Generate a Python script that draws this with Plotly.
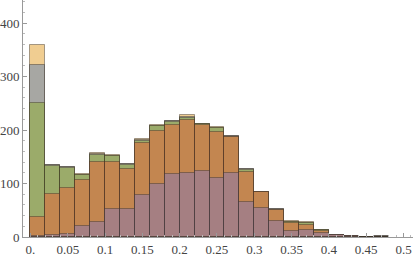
import plotly.graph_objects as go

bin_starts = [0.00, 0.02, 0.04, 0.06, 0.08, 0.10, 0.12, 0.14, 0.16, 0.18, 0.20, 0.22,
              0.24, 0.26, 0.28, 0.30, 0.32, 0.34, 0.36, 0.38, 0.40, 0.42, 0.44, 0.46]
bin_width = 0.02

series_orange = [359, 135, 131, 117, 157, 153, 137, 183, 209, 217, 228, 212,
                 205, 189, 128, 85, 52, 29, 28, 14, 4, 2, 0, 1]
series_blue   = [322, 134, 130, 116, 156, 152, 136, 182, 208, 216, 225, 212,
                 204, 188, 127, 85, 52, 28, 27, 13, 4, 2, 0, 1]
series_green  = [250, 132, 129, 115, 154, 151, 135, 180, 207, 215, 223, 211,
                 203, 187, 126, 85, 51, 28, 26, 13, 4, 2, 0, 0]
series_red    = [37, 81, 92, 106, 140, 140, 127, 175, 199, 210, 218, 210,
                 197, 187, 122, 84, 51, 27, 23, 12, 4, 2, 0, 0]
series_purple = [1, 4, 6, 21, 28, 53, 52, 78, 99, 117, 119, 124,
                 110, 119, 65, 55, 29, 12, 13, 8, 3, 1, 0, 0]

x_ticks = [0.0, 0.05, 0.1, 0.15, 0.2, 0.25, 0.3, 0.35, 0.4, 0.45, 0.5]
x_tick_labels = ["0.", "0.05", "0.1", "0.15", "0.2", "0.25", "0.3", "0.35", "0.4", "0.45", "0.5"]
y_ticks = [0, 100, 200, 300, 400]
y_tick_labels = ["0", "100", "200", "300", "400"]

series = [
    (series_orange, "rgba(225,156,36,0.5)"),
    (series_blue, "rgba(94,129,181,0.5)"),
    (series_green, "rgba(143,176,50,0.5)"),
    (series_red, "rgba(235,98,53,0.5)"),
    (series_purple, "rgba(135,120,179,0.5)"),
]

centers = [s + bin_width / 2 for s in bin_starts]

fig = go.Figure()
for vals, col in series:
    fig.add_trace(go.Bar(
        x=centers, y=vals, width=bin_width,
        marker=dict(color=col, line=dict(color="rgba(60,50,40,0.45)", width=1)),
        showlegend=False, hoverinfo="skip",
    ))

font = dict(family="Liberation Serif", size=13, color="#444444")

fig.update_layout(
    width=415, height=256,
    margin=dict(l=23, r=2, t=0, b=19, autoexpand=False),
    paper_bgcolor="white", plot_bgcolor="white",
    barmode="overlay", bargap=0,
    font=font,
)
fig.update_xaxes(
    range=[-0.01, 0.5127], showgrid=False, zeroline=False, automargin=False,
    showline=True, linecolor="#999999", linewidth=1,
    tickmode="array", tickvals=x_ticks, ticktext=x_tick_labels,
    ticks="inside", ticklen=4, tickcolor="#999999", tickfont=font,
    minor=dict(ticks="inside", ticklen=2, tickcolor="#bbbbbb", dtick=0.01),
)
fig.update_yaxes(
    range=[0, 443], showgrid=False, zeroline=False, automargin=False,
    showline=True, linecolor="#999999", linewidth=1,
    tickmode="array", tickvals=y_ticks, ticktext=y_tick_labels,
    ticks="inside", ticklen=4, tickcolor="#999999", tickfont=font,
    ticklabelstandoff=0,
    minor=dict(ticks="inside", ticklen=2, tickcolor="#bbbbbb", dtick=20),
)

fig.write_html("out.html", config={"displayModeBar": False},
               post_script="document.body.style.margin='0';document.body.style.padding='0';")
